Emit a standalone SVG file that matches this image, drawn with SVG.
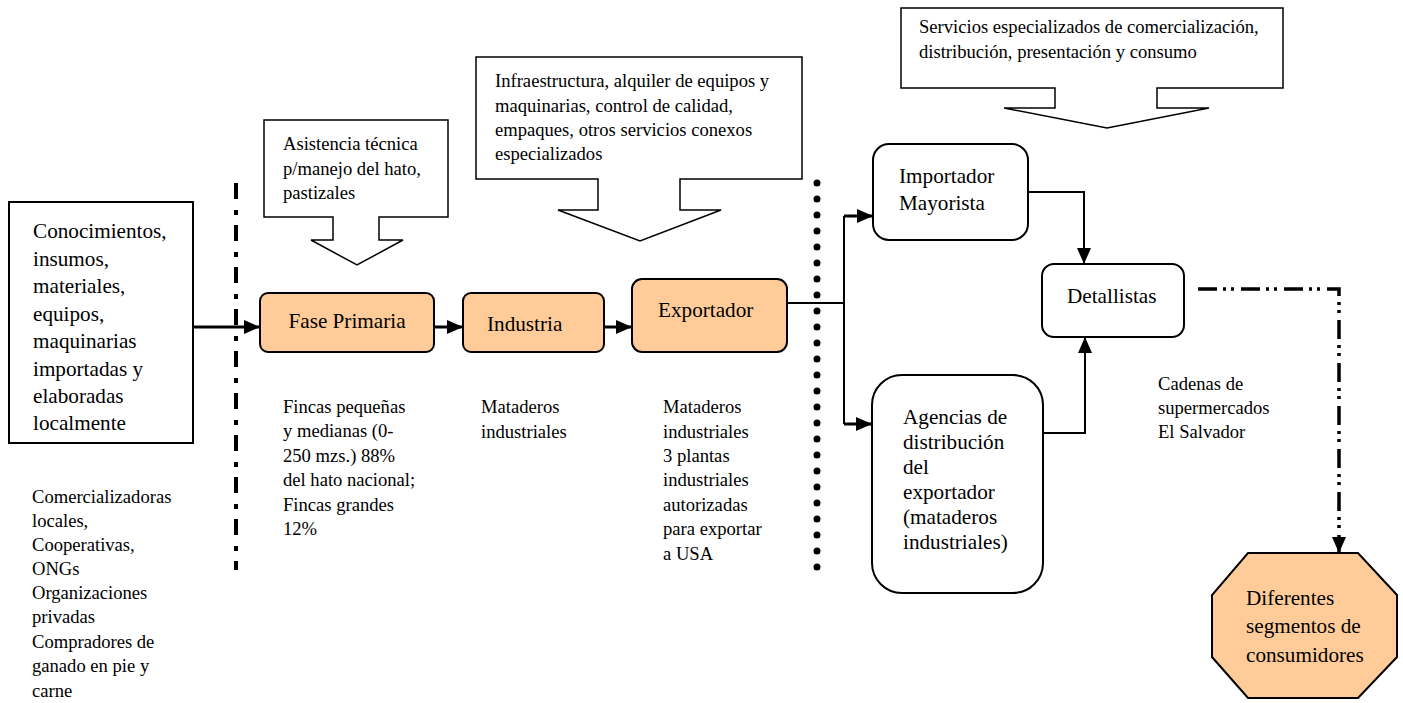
<svg xmlns="http://www.w3.org/2000/svg" width="1403" height="703" viewBox="0 0 1403 703">
<style>
text{font-family:"Liberation Serif","Times New Roman",serif;fill:#000}
.t18{font-size:18.6px}
.t21{font-size:21.2px}
.box{fill:#fff;stroke:#000;stroke-width:2}
.peach{fill:#FFCC99;stroke:#000;stroke-width:2}
.callout{fill:#fff;stroke:#000;stroke-width:1.5}
.thick{fill:none;stroke:#000;stroke-width:3}
.thin{fill:none;stroke:#000;stroke-width:2}
</style>
<defs>
<marker id="ah" markerUnits="userSpaceOnUse" markerWidth="16" markerHeight="14" refX="15" refY="7" orient="auto">
<path d="M0,0 L16,7 L0,14 Z" fill="#000"/>
</marker>
</defs>
<rect width="1403" height="703" fill="#fff"/>

<g id="divider-left"><line x1="236" y1="183" x2="236" y2="570" stroke="#000" stroke-width="4" stroke-dasharray="16 11 5 10"/></g>
<g id="divider-right"><line x1="817" y1="183" x2="817" y2="568" stroke="#000" stroke-width="7" stroke-linecap="round" stroke-dasharray="0 16"/></g>

<g id="connectors">
<path class="thick" d="M193,327 H259" marker-end="url(#ah)"/>
<path class="thick" d="M434,327 H462" marker-end="url(#ah)"/>
<path class="thick" d="M604,327 H631" marker-end="url(#ah)"/>
<path class="thin" d="M787,303 H844"/>
<path class="thin" d="M844,216 V424"/>
<path class="thick" d="M844,216 H872" marker-end="url(#ah)"/>
<path class="thick" d="M844,424 H871" marker-end="url(#ah)"/>
<path class="thin" d="M1028,192 H1084 V263" marker-end="url(#ah)"/>
<path class="thin" d="M1043,433 H1085 V338" marker-end="url(#ah)"/>
<path d="M1198,289 H1339 V552" fill="none" stroke="#000" stroke-width="3.5" stroke-dasharray="19 6 3 5 3 7" marker-end="url(#ah)"/>
</g>

<g id="insumos">
<rect class="box" x="9" y="202" width="184" height="241"/>
<text class="t21" x="33" y="238">Conocimientos,</text>
<text class="t21" x="33" y="265.5">insumos,</text>
<text class="t21" x="33" y="293">materiales,</text>
<text class="t21" x="33" y="320.5">equipos,</text>
<text class="t21" x="33" y="348">maquinarias</text>
<text class="t21" x="33" y="375.5">importadas y</text>
<text class="t21" x="33" y="403">elaboradas</text>
<text class="t21" x="33" y="430">localmente</text>
</g>

<g id="callout-asistencia">
<path class="callout" d="M264,120 H448 V217 H379 V240 H403 L357,265 L311,240 H333 V217 H264 Z"/>
<text class="t18" x="283" y="150">Asistencia técnica</text>
<text class="t18" x="283" y="175">p/manejo del hato,</text>
<text class="t18" x="283" y="199">pastizales</text>
</g>

<g id="callout-infraestructura">
<path class="callout" d="M476,57 H802 V179 H680 V210 H721 L640,241 L558,210 H598 V179 H476 Z"/>
<text class="t18" x="495" y="87">Infraestructura, alquiler de equipos y</text>
<text class="t18" x="495" y="112">maquinarias, control de calidad,</text>
<text class="t18" x="495" y="136">empaques, otros servicios conexos</text>
<text class="t18" x="495" y="160">especializados</text>
</g>

<g id="callout-servicios">
<path class="callout" d="M901,8 H1283 V88 H1157 V108 H1209 L1107,128 L1004,108 H1055 V88 H901 Z"/>
<text class="t18" x="919" y="33">Servicios especializados de comercialización,</text>
<text class="t18" x="919" y="58">distribución, presentación y consumo</text>
</g>

<g id="fase-primaria">
<rect class="peach" x="260" y="293" width="174" height="59" rx="8"/>
<text class="t21" x="347" y="328" text-anchor="middle">Fase Primaria</text>
</g>

<g id="industria">
<rect class="peach" x="463" y="293" width="141" height="59" rx="8"/>
<text class="t21" x="487" y="331">Industria</text>
</g>

<g id="exportador">
<rect class="peach" x="632" y="279" width="155" height="73" rx="10"/>
<text class="t21" x="658" y="317">Exportador</text>
</g>

<g id="importador">
<rect class="box" x="873" y="144" width="155" height="96" rx="16"/>
<text class="t21" x="899" y="183">Importador</text>
<text class="t21" x="899" y="210">Mayorista</text>
</g>

<g id="detallistas">
<rect class="box" x="1042" y="264" width="142" height="73" rx="12"/>
<text class="t21" x="1067" y="303">Detallistas</text>
</g>

<g id="agencias">
<rect class="box" x="872" y="375" width="171" height="218" rx="30"/>
<text class="t21" x="903" y="424">Agencias de</text>
<text class="t21" x="903" y="449">distribución</text>
<text class="t21" x="903" y="474">del</text>
<text class="t21" x="903" y="499">exportador</text>
<text class="t21" x="903" y="524">(mataderos</text>
<text class="t21" x="903" y="549">industriales)</text>
</g>

<g id="consumidores">
<polygon class="peach" points="1248,553 1358,553 1397,595 1397,657 1358,698 1248,698 1212,657 1212,595"/>
<text class="t21" x="1246" y="605">Diferentes</text>
<text class="t21" x="1246" y="633">segmentos de</text>
<text class="t21" x="1246" y="662">consumidores</text>
</g>

<g id="label-fincas">
<text class="t18" x="283" y="413">Fincas pequeñas</text>
<text class="t18" x="283" y="437">y medianas (0-</text>
<text class="t18" x="283" y="462">250 mzs.) 88%</text>
<text class="t18" x="283" y="486">del hato nacional;</text>
<text class="t18" x="283" y="511">Fincas grandes</text>
<text class="t18" x="283" y="535">12%</text>
</g>

<g id="label-mataderos">
<text class="t18" x="481" y="413">Mataderos</text>
<text class="t18" x="481" y="438">industriales</text>
</g>

<g id="label-mataderos-export">
<text class="t18" x="663" y="413">Mataderos</text>
<text class="t18" x="663" y="438">industriales</text>
<text class="t18" x="663" y="462">3 plantas</text>
<text class="t18" x="663" y="486">industriales</text>
<text class="t18" x="663" y="511">autorizadas</text>
<text class="t18" x="663" y="535">para exportar</text>
<text class="t18" x="663" y="560">a USA</text>
</g>

<g id="label-cadenas">
<text class="t18" x="1158" y="390">Cadenas de</text>
<text class="t18" x="1158" y="414">supermercados</text>
<text class="t18" x="1158" y="438">El Salvador</text>
</g>

<g id="label-comercializadoras">
<text class="t18" x="32" y="503">Comercializadoras</text>
<text class="t18" x="32" y="527">locales,</text>
<text class="t18" x="32" y="551">Cooperativas,</text>
<text class="t18" x="32" y="575">ONGs</text>
<text class="t18" x="32" y="599">Organizaciones</text>
<text class="t18" x="32" y="623">privadas</text>
<text class="t18" x="32" y="648">Compradores de</text>
<text class="t18" x="32" y="672">ganado en pie y</text>
<text class="t18" x="32" y="697">carne</text>
</g>
</svg>
